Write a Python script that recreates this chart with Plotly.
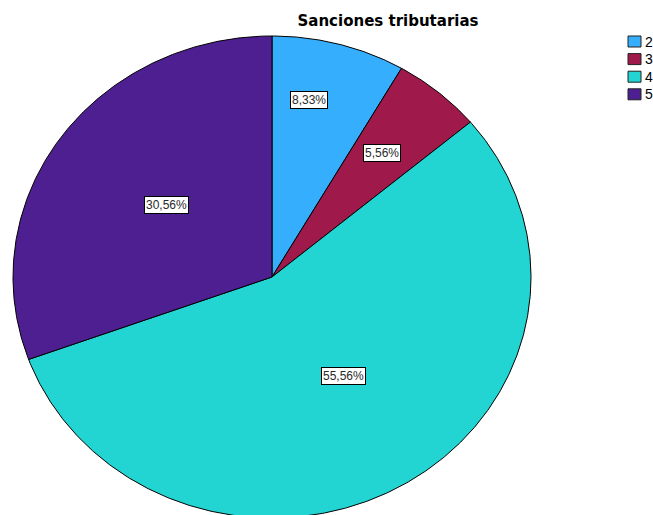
import numpy as np
import plotly.graph_objects as go

# Data
categories = ["2", "3", "4", "5"]
counts = [3, 2, 20, 11]
colors = ["#35AEFD", "#A0194B", "#22D5D3", "#4E1F91"]
title_text = "Sanciones tributarias"

# Layout constants (pixel space)
W, H = 653, 515
CX, CY = 272, 277
RX, RY = 259, 241
label_pos = [(309, 100), (382, 153), (343, 376), (166, 205)]
LEG_X, LEG_Y0, LEG_DY = 628, 41.5, 17.6

total = sum(counts)
fracs = [c / total for c in counts]

fig = go.Figure()
start = 0.0
for cat, f, col in zip(categories, fracs, colors):
    end = start + f * 2 * np.pi
    t = np.linspace(start, end, max(int(f * 720), 4))
    xs = np.concatenate([[CX], CX + RX * np.sin(t), [CX]])
    ys = np.concatenate([[CY], CY - RY * np.cos(t), [CY]])
    fig.add_trace(go.Scatter(x=xs, y=ys, mode="lines", fill="toself", name=cat,
                             fillcolor=col, line=dict(color="black", width=1),
                             showlegend=False, hoverinfo="skip"))
    start = end

# legend (manual, SPSS style)
for i, (cat, col) in enumerate(zip(categories, colors)):
    yc = LEG_Y0 + i * LEG_DY
    fig.add_shape(type="rect", x0=LEG_X, x1=LEG_X + 13, y0=yc - 5.5, y1=yc + 5.5,
                  fillcolor=col, line=dict(color="#222222", width=1))
    fig.add_annotation(x=LEG_X + 15, y=yc, text=cat, showarrow=False,
                       xanchor="left", yanchor="middle",
                       font=dict(family="Liberation Sans, Arial", size=14, color="black"))

for f, (lx, ly) in zip(fracs, label_pos):
    txt = f"{f*100:.2f}%".replace(".", ",")
    fig.add_annotation(x=lx, y=ly, text=txt, showarrow=False,
                       font=dict(family="Liberation Sans, Arial", size=12, color="#2a2a2a"),
                       bgcolor="white", bordercolor="black", borderwidth=1, borderpad=1)

fig.update_layout(
    width=W, height=H,
    margin=dict(l=0, r=0, t=0, b=0, autoexpand=False),
    paper_bgcolor="white", plot_bgcolor="white",
    xaxis=dict(range=[0, W], visible=False, fixedrange=True),
    yaxis=dict(range=[H, 0], visible=False, fixedrange=True),
    title=dict(text=f"<b>{title_text}</b>", x=388 / W, xanchor="center",
               y=1 - 21 / H, yanchor="middle",
               font=dict(family="DejaVu Sans, Verdana", size=15, color="black")),
    showlegend=False,
)

fig.write_html("out.html")
